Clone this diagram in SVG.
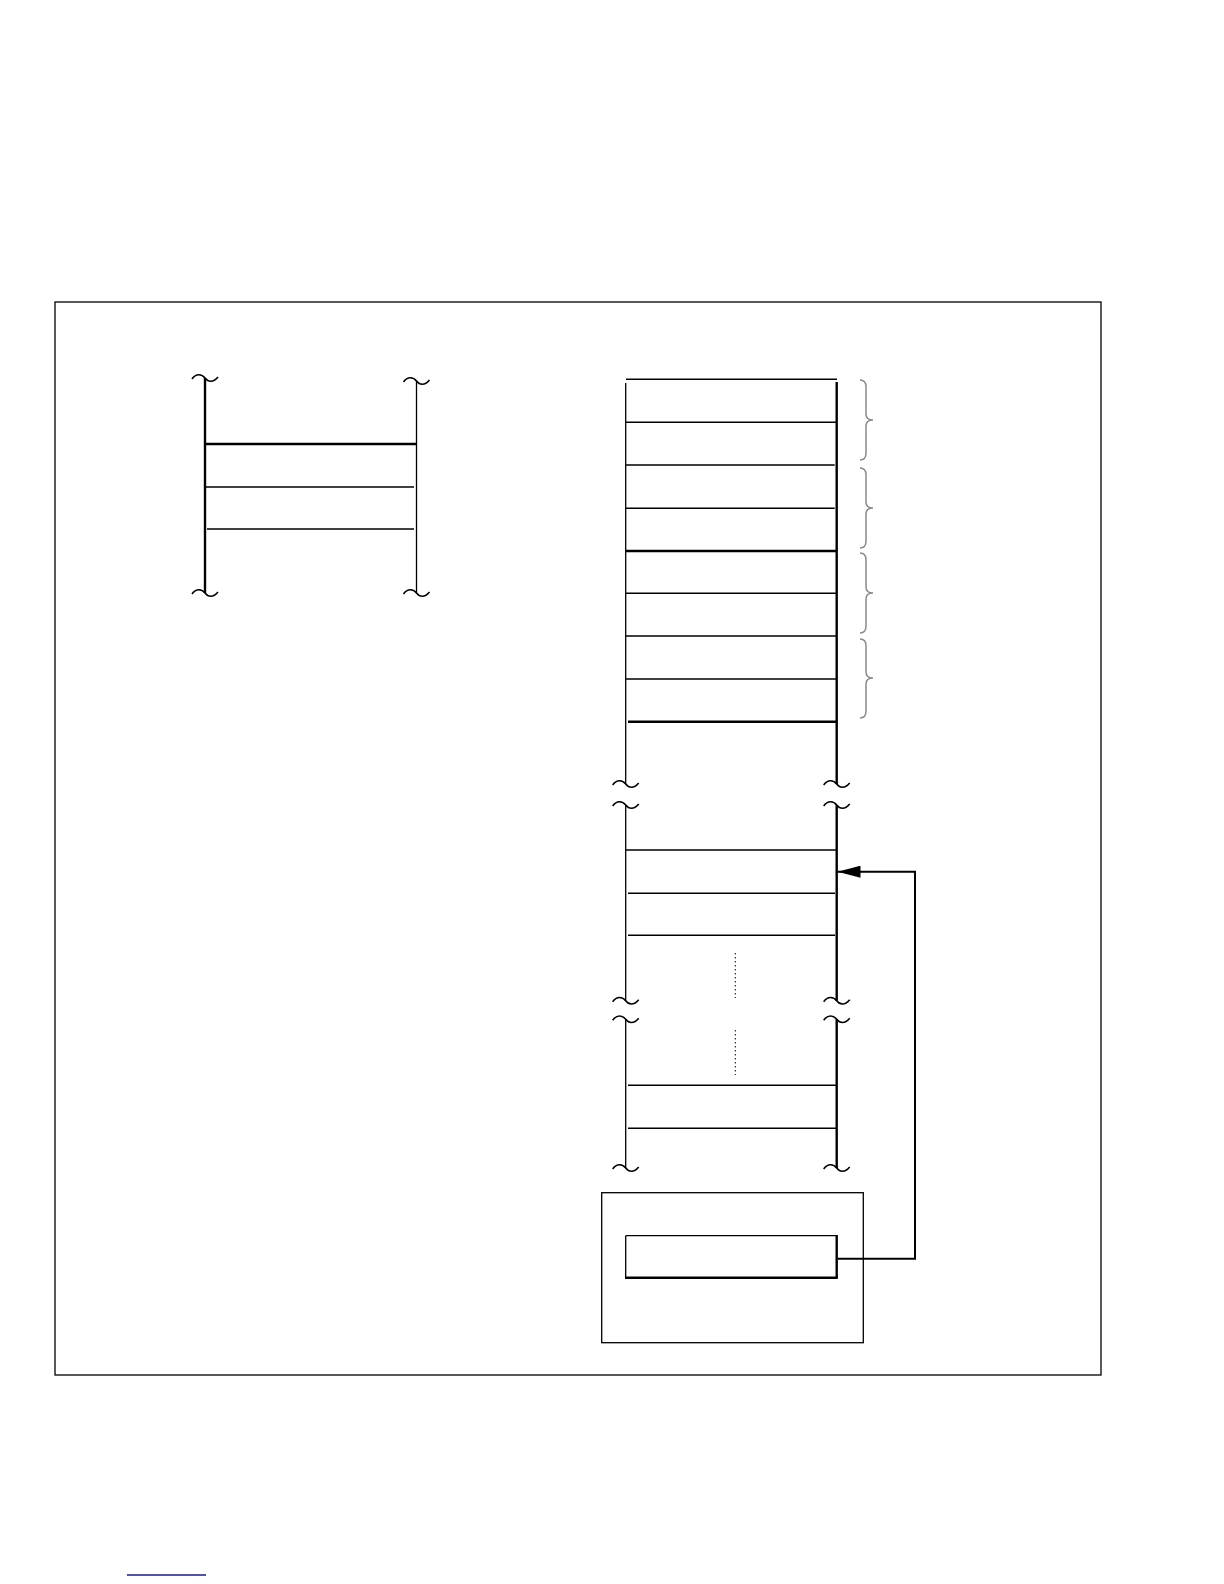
<svg xmlns="http://www.w3.org/2000/svg" width="1224" height="1584" viewBox="0 0 1224 1584">
<style>
.thin{stroke:#000;stroke-width:1.3;fill:none}
.mid{stroke:#000;stroke-width:1.6;fill:none}
.thick{stroke:#000;stroke-width:2.4;fill:none}
.brace{stroke:#8a8a8a;stroke-width:1.5;fill:none}
.dot{stroke:#000;stroke-width:1;stroke-dasharray:1.5 2.5;fill:none}
</style>
<defs>
<path id="tl" d="M-13,1 C-9,-5 -3,-4 0,0 C3,4 8,5 13,-1"/>
<marker id="ah" markerWidth="24" markerHeight="12" refX="23" refY="6" orient="auto" markerUnits="userSpaceOnUse">
<path d="M0,0 L23,6 L0,12 Z" fill="#000"/>
</marker>
</defs>
<rect x="55" y="302" width="1046" height="1073" fill="#fff" stroke="#000" stroke-width="1.3"/>
<g id="left-stack">
<line class="thick" x1="205" y1="378" x2="205" y2="593"/>
<line class="thin" x1="416.5" y1="381" x2="416.5" y2="593"/>
<use href="#tl" class="mid" x="205" y="378"/>
<use href="#tl" class="mid" x="416.5" y="381"/>
<use href="#tl" class="mid" x="205" y="593"/>
<use href="#tl" class="mid" x="416.5" y="593"/>
<line class="thick" x1="205" y1="444" x2="416" y2="444"/>
<line class="mid" x1="205" y1="487" x2="414" y2="487"/>
<line class="mid" x1="207" y1="529" x2="414" y2="529"/>
</g>
<g id="right-stack">
<line class="thin" x1="625.7" y1="383" x2="625.7" y2="784"/>
<line class="thick" x1="836.7" y1="382" x2="836.7" y2="784"/>
<line class="thin" x1="625.7" y1="805" x2="625.7" y2="1000.7"/>
<line class="thick" x1="836.7" y1="805" x2="836.7" y2="1000.7"/>
<line class="thin" x1="625.7" y1="1019.3" x2="625.7" y2="1168"/>
<line class="thick" x1="836.7" y1="1019.3" x2="836.7" y2="1168"/>
<use href="#tl" class="mid" x="625.7" y="784"/>
<use href="#tl" class="mid" x="836.7" y="784"/>
<use href="#tl" class="mid" x="625.7" y="805"/>
<use href="#tl" class="mid" x="836.7" y="805"/>
<use href="#tl" class="mid" x="625.7" y="1000.7"/>
<use href="#tl" class="mid" x="836.7" y="1000.7"/>
<use href="#tl" class="mid" x="625.7" y="1019.3"/>
<use href="#tl" class="mid" x="836.7" y="1019.3"/>
<use href="#tl" class="mid" x="625.7" y="1168"/>
<use href="#tl" class="mid" x="836.7" y="1168"/>
<line class="mid" x1="626" y1="379.3" x2="837" y2="379.3"/>
<line class="mid" x1="626" y1="422.3" x2="836" y2="422.3"/>
<line class="mid" x1="626" y1="465" x2="834.7" y2="465"/>
<line class="mid" x1="626" y1="508.3" x2="834.7" y2="508.3"/>
<line class="thick" x1="626" y1="551" x2="836" y2="551"/>
<line class="mid" x1="626" y1="593.3" x2="836" y2="593.3"/>
<line class="mid" x1="626" y1="636" x2="836" y2="636"/>
<line class="mid" x1="626" y1="679" x2="836" y2="679"/>
<line class="thick" x1="628" y1="721.7" x2="836" y2="721.7"/>
<line class="mid" x1="626" y1="850" x2="836" y2="850"/>
<line class="mid" x1="628" y1="893.3" x2="835" y2="893.3"/>
<line class="mid" x1="628" y1="935.3" x2="835" y2="935.3"/>
<line class="dot" x1="735.3" y1="953" x2="735.3" y2="998"/>
<line class="dot" x1="735.3" y1="1030" x2="735.3" y2="1075"/>
<line class="mid" x1="628" y1="1085.3" x2="836" y2="1085.3"/>
<line class="mid" x1="628" y1="1128.3" x2="836" y2="1128.3"/>
</g>
<g id="braces">
<path class="brace" d="M860,380 Q866,380 866,387 L866,414 Q866,420 873,420 Q866,420 866,426 L866,453 Q866,460 860,460"/>
<path class="brace" d="M860,468 Q866,468 866,475 L866,502 Q866,508 873,508 Q866,508 866,514 L866,541 Q866,548 860,548"/>
<path class="brace" d="M860,553 Q866,553 866,560 L866,587 Q866,593 873,593 Q866,593 866,599 L866,626 Q866,633 860,633"/>
<path class="brace" d="M860,639 Q866,639 866,646 L866,672 Q866,678 873,678 Q866,678 866,684 L866,711 Q866,718 860,718"/>
</g>
<g id="bottom-box">
<rect x="601.7" y="1192.7" width="261.6" height="150" fill="none" stroke="#000" stroke-width="1.3"/>
<g id="pointer-cell">
<line class="thin" x1="625.7" y1="1235.7" x2="836.7" y2="1235.7"/>
<line class="thin" x1="625.7" y1="1235.7" x2="625.7" y2="1277.7"/>
<line class="thick" x1="836.7" y1="1235" x2="836.7" y2="1278.7"/>
<line class="thick" x1="625" y1="1277.7" x2="837.5" y2="1277.7"/>
</g>
</g>
<g id="connectors">
<polyline points="837.7,1258.7 915,1258.7 915,871.7 837.5,871.7" fill="none" stroke="#000" stroke-width="2" marker-end="url(#ah)"/>
</g>
<line x1="127" y1="1575" x2="206" y2="1575" stroke="#1a1a8c" stroke-width="1.3"/>
</svg>
